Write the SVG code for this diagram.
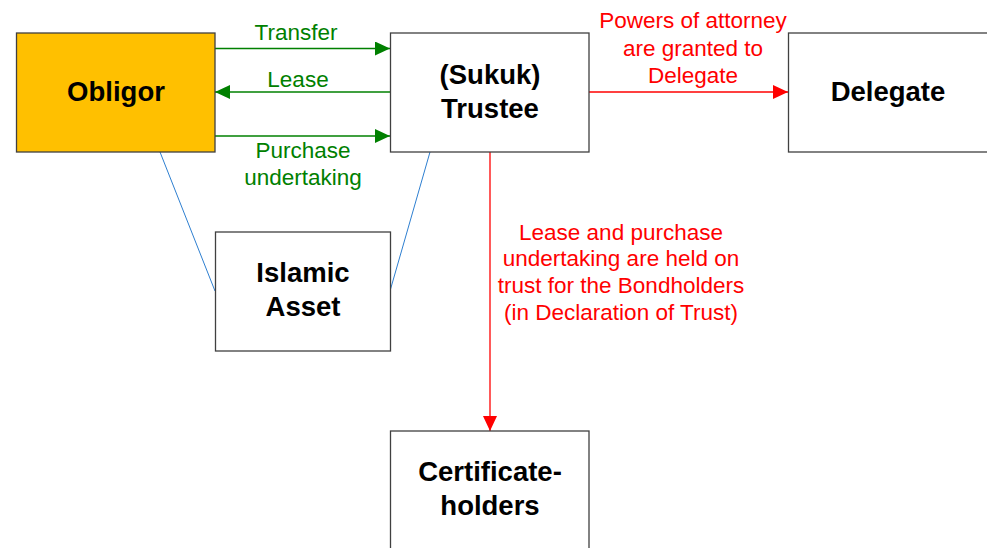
<svg xmlns="http://www.w3.org/2000/svg" width="987" height="548" viewBox="0 0 987 548">
<style>
.box{fill:#fff;stroke:#404040;stroke-width:1.3}
.nt{font-family:"Liberation Sans",Arial,sans-serif;font-weight:bold;font-size:27.5px;fill:#000;text-anchor:middle}
.gl{font-family:"Liberation Sans",Arial,sans-serif;font-size:22.5px;fill:#008000;text-anchor:middle}
.rl{font-family:"Liberation Sans",Arial,sans-serif;font-size:22.5px;fill:#ff0000;text-anchor:middle}
.g{stroke:#008000;stroke-width:1.3;fill:none}
.r{stroke:#ff0000;stroke-width:1.3;fill:none}
.b{stroke:#2e7fd0;stroke-width:1;fill:none}
</style>
<defs>
<marker id="ag" markerWidth="15" markerHeight="14" refX="15" refY="7" orient="auto" markerUnits="userSpaceOnUse"><path d="M0,0L15,7L0,14Z" fill="#008000"/></marker>
<marker id="ar" markerWidth="15" markerHeight="14" refX="15" refY="7" orient="auto" markerUnits="userSpaceOnUse"><path d="M0,0L15,7L0,14Z" fill="#ff0000"/></marker>
</defs>
<rect width="987" height="548" fill="#fff"/>
<g id="connectors">
<line class="b" x1="160" y1="152" x2="215" y2="291"/>
<line class="b" x1="430" y1="152" x2="390" y2="291"/>
<line class="g" x1="215" y1="48.5" x2="390" y2="48.5" marker-end="url(#ag)"/>
<line class="g" x1="390" y1="92" x2="215" y2="92" marker-end="url(#ag)"/>
<line class="g" x1="215" y1="136" x2="390" y2="136" marker-end="url(#ag)"/>
<line class="r" x1="589" y1="92" x2="788" y2="92" marker-end="url(#ar)"/>
<line class="r" x1="490" y1="152" x2="490" y2="431" marker-end="url(#ar)"/>
<text class="gl" x="296" y="40">Transfer</text>
<text class="gl" x="298" y="87">Lease</text>
<text class="gl" x="303" y="158">Purchase</text>
<text class="gl" x="303" y="185">undertaking</text>
<text class="rl" x="693" y="28">Powers of attorney</text>
<text class="rl" x="693" y="56">are granted to</text>
<text class="rl" x="693" y="83">Delegate</text>
<text class="rl" x="621" y="240">Lease and purchase</text>
<text class="rl" x="621" y="266">undertaking are held on</text>
<text class="rl" x="621" y="293">trust for the Bondholders</text>
<text class="rl" x="621" y="320">(in Declaration of Trust)</text>
</g>
<g id="obligor">
<rect x="16.5" y="33" width="198.5" height="119" fill="#ffc000" stroke="#404040" stroke-width="1.3"/>
<text class="nt" x="116" y="101">Obligor</text>
</g>
<g id="trustee">
<rect class="box" x="390.5" y="33" width="198.5" height="119"/>
<text class="nt" x="490" y="84">(Sukuk)</text>
<text class="nt" x="490" y="118">Trustee</text>
</g>
<g id="delegate">
<rect class="box" x="788.5" y="33" width="210" height="119"/>
<text class="nt" x="888" y="101">Delegate</text>
</g>
<g id="asset">
<rect class="box" x="215.5" y="232" width="175" height="119"/>
<text class="nt" x="303" y="282">Islamic</text>
<text class="nt" x="303" y="316">Asset</text>
</g>
<g id="certificateholders">
<rect class="box" x="390.5" y="431" width="198.5" height="130"/>
<text class="nt" x="490" y="481">Certificate-</text>
<text class="nt" x="490" y="515">holders</text>
</g>
</svg>
